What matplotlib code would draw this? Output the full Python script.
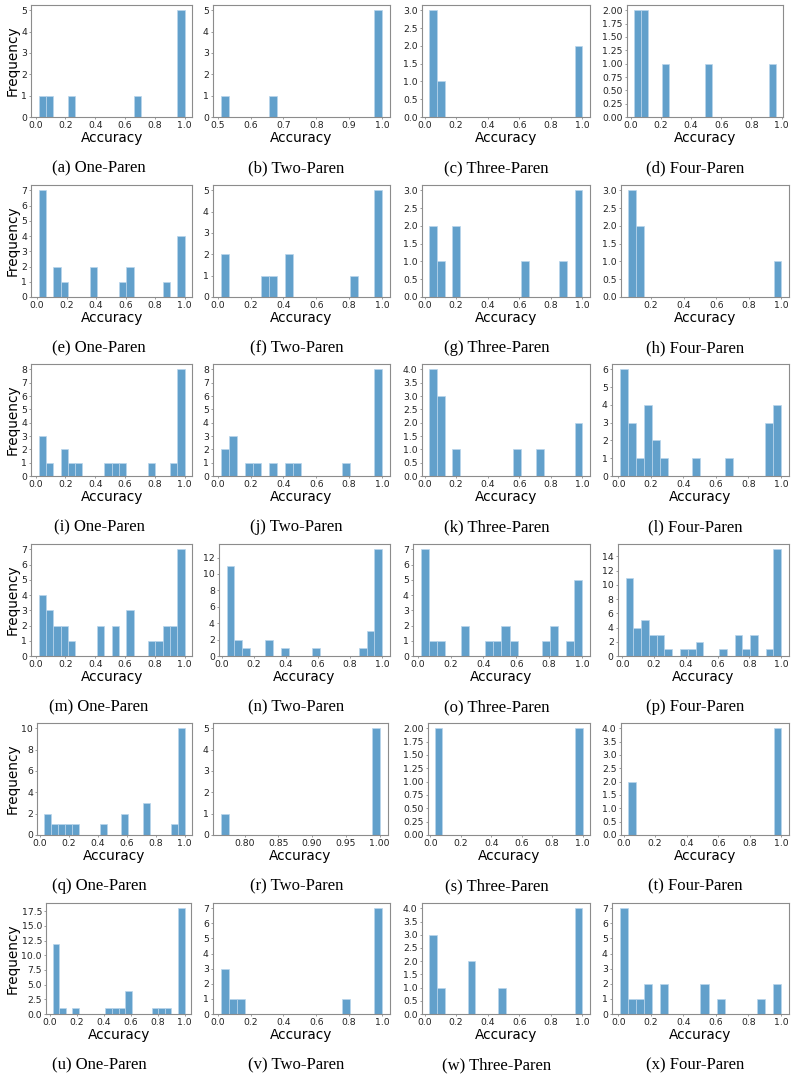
import matplotlib
matplotlib.use("Agg")
import matplotlib.pyplot as plt
from matplotlib.ticker import MaxNLocator

# accuracies per run (20 bins each)
acc_a = [0.02, 0.09, 0.24, 0.68, 1.0, 1.0, 1.0, 1.0, 1.0]
acc_b = [0.51, 0.667, 1.0, 1.0, 1.0, 1.0, 1.0]
acc_c = [0.03, 0.04, 0.05, 0.1, 1.0, 1.0]
acc_d = [0.02, 0.05, 0.08, 0.1, 0.23, 0.52, 0.96]

acc_e = [0.01, 0.02, 0.03, 0.03, 0.04, 0.05, 0.05, 0.13, 0.14, 0.18, 0.38, 0.39,
         0.58, 0.62, 0.63, 0.87, 1.0, 1.0, 1.0, 1.0]
acc_f = [0.02, 0.05, 0.29, 0.33, 0.43, 0.44, 0.83, 1.0, 1.0, 1.0, 1.0, 1.0]
acc_g = [0.03, 0.05, 0.1, 0.2, 0.2, 0.63, 0.88, 1.0, 1.0, 1.0]
acc_h = [0.06, 0.07, 0.09, 0.12, 0.14, 1.0]

acc_i = [0.02, 0.04, 0.06, 0.1, 0.18, 0.2, 0.24, 0.29, 0.48, 0.53, 0.58, 0.78, 0.93,
         1.0, 1.0, 1.0, 1.0, 1.0, 1.0, 1.0, 1.0]
acc_j = [0.02, 0.05, 0.08, 0.1, 0.11, 0.2, 0.25, 0.33, 0.43, 0.5, 0.78,
         1.0, 1.0, 1.0, 1.0, 1.0, 1.0, 1.0, 1.0]
acc_k = [0.03, 0.04, 0.05, 0.07, 0.08, 0.1, 0.12, 0.2, 0.59, 0.73, 1.0, 1.0]
acc_l = [0.01, 0.02, 0.03, 0.04, 0.05, 0.05, 0.07, 0.08, 0.1, 0.13, 0.17, 0.18, 0.19, 0.2,
         0.22, 0.25, 0.28, 0.48, 0.68, 0.92, 0.93, 0.94, 0.97, 1.0, 1.0, 1.0]

acc_m = [0.02, 0.03, 0.05, 0.06, 0.08, 0.1, 0.11, 0.13, 0.15, 0.18, 0.2, 0.25, 0.43, 0.44,
         0.53, 0.54, 0.62, 0.63, 0.64, 0.78, 0.83, 0.87, 0.89, 0.92, 0.94,
         1.0, 1.0, 1.0, 1.0, 1.0, 1.0, 1.0]
acc_n = [0.03, 0.03, 0.04, 0.04, 0.05, 0.05, 0.05, 0.06, 0.06, 0.07, 0.07, 0.09, 0.11, 0.15,
         0.29, 0.3, 0.39, 0.59, 0.88, 0.92, 0.93, 0.94,
         1.0, 1.0, 1.0, 1.0, 1.0, 1.0, 1.0, 1.0, 1.0, 1.0, 1.0, 1.0, 1.0]
acc_o = [0.02, 0.03, 0.04, 0.05, 0.05, 0.06, 0.06, 0.1, 0.14, 0.29, 0.3, 0.44, 0.49, 0.53,
         0.54, 0.58, 0.78, 0.82, 0.83, 0.93, 1.0, 1.0, 1.0, 1.0, 1.0]
acc_p = [0.02, 0.02, 0.03, 0.03, 0.04, 0.04, 0.05, 0.05, 0.06, 0.06, 0.06,
         0.08, 0.09, 0.1, 0.11, 0.12, 0.13, 0.14, 0.15, 0.16, 0.18, 0.19, 0.2,
         0.22, 0.24, 0.25, 0.29, 0.39, 0.44, 0.48, 0.5, 0.63, 0.72, 0.73, 0.74, 0.78,
         0.82, 0.83, 0.84, 0.93,
         1.0, 1.0, 1.0, 1.0, 1.0, 1.0, 1.0, 1.0, 1.0, 1.0, 1.0, 1.0, 1.0, 1.0, 1.0]

acc_q = [0.03, 0.06, 0.1, 0.15, 0.2, 0.25, 0.44, 0.58, 0.6, 0.72, 0.73, 0.75, 0.93,
         1.0, 1.0, 1.0, 1.0, 1.0, 1.0, 1.0, 1.0, 1.0, 1.0]
acc_r = [0.765, 1.0, 1.0, 1.0, 1.0, 1.0]
acc_s = [0.03, 0.05, 1.0, 1.0]
acc_t = [0.03, 0.05, 1.0, 1.0, 1.0, 1.0]

acc_u = [0.02, 0.02, 0.03, 0.03, 0.03, 0.04, 0.04, 0.05, 0.05, 0.06, 0.06, 0.06,
         0.09, 0.19, 0.43, 0.49, 0.53, 0.57, 0.58, 0.59, 0.6, 0.78, 0.83, 0.88,
         1.0, 1.0, 1.0, 1.0, 1.0, 1.0, 1.0, 1.0, 1.0, 1.0, 1.0, 1.0, 1.0, 1.0, 1.0, 1.0, 1.0, 1.0]
acc_v = [0.02, 0.04, 0.06, 0.1, 0.14, 0.78, 1.0, 1.0, 1.0, 1.0, 1.0, 1.0, 1.0]
acc_w = [0.03, 0.05, 0.07, 0.1, 0.29, 0.3, 0.49, 1.0, 1.0, 1.0, 1.0]
acc_x = [0.01, 0.02, 0.02, 0.03, 0.04, 0.05, 0.05, 0.08, 0.13, 0.18, 0.2, 0.28, 0.29,
         0.52, 0.53, 0.63, 0.88, 1.0, 1.0]

panels = [acc_a, acc_b, acc_c, acc_d, acc_e, acc_f, acc_g, acc_h,
          acc_i, acc_j, acc_k, acc_l, acc_m, acc_n, acc_o, acc_p,
          acc_q, acc_r, acc_s, acc_t, acc_u, acc_v, acc_w, acc_x]
letters = "abcdefghijklmnopqrstuvwx"
names = ["One-Paren", "Two-Paren", "Three-Paren", "Four-Paren"]

W, H = 795, 1080
fig = plt.figure(figsize=(W / 100, H / 100), dpi=100)

# slots in pixels (left, right) for each column, top/bottom of each row
col_slots = [(6, 192), (203, 390), (403, 590), (602, 789)]
row_tops = [5, 185, 364, 544, 723, 903]
row_bots = [117, 297, 476, 656, 835, 1014]
cap_y = [168, 348, 527, 707, 886, 1065]

spine_col = "#8c8c8c"
axes = []
for i, vals in enumerate(panels):
    r, c = divmod(i, 4)
    l, rr = col_slots[c]
    top, bot = row_tops[r], row_bots[r]
    ax = fig.add_axes([(l + 25) / W, 1 - bot / H, (rr - l - 27) / W, (bot - top) / H])
    ax.hist(vals, bins=20, color="#62a0cb", edgecolor="#b9d5ec", linewidth=0.5)
    ax.yaxis.set_major_locator(MaxNLocator(nbins=9, steps=[1, 2, 2.5, 5, 10]))
    ax.xaxis.set_major_locator(MaxNLocator(nbins=6, steps=[1, 2, 2.5, 5, 10]))
    for s in ax.spines.values():
        s.set_color(spine_col)
        s.set_linewidth(0.8)
    ax.tick_params(labelsize=6.7, length=1.6, pad=1.3, width=0.6,
                   color=spine_col, labelcolor="#222222")
    ax.set_xlabel("Accuracy", fontsize=9.8, labelpad=0.6)
    if c == 0:
        ax.set_ylabel("Frequency", fontsize=9.8, labelpad=1.0)
    fig.text((l + rr) / 2 / W, 1 - cap_y[r] / H, "(%s) %s" % (letters[i], names[c]),
             ha="center", va="center", fontsize=12, family="Liberation Serif")
    axes.append((ax, l, rr))

# fit every panel (with its tick labels) into its column slot
for _ in range(2):
    fig.canvas.draw()
    rend = fig.canvas.get_renderer()
    for ax, l, rr in axes:
        bb = ax.get_tightbbox(rend)
        pos = ax.get_position()
        x0, x1 = pos.x0 * W, pos.x1 * W
        left_ov = x0 - bb.x0
        right_ov = max(bb.x1 - x1, 0)
        nx0 = l + left_ov
        nx1 = rr - right_ov
        ax.set_position([nx0 / W, pos.y0, (nx1 - nx0) / W, pos.height])

fig.savefig("out.png", dpi=100)
